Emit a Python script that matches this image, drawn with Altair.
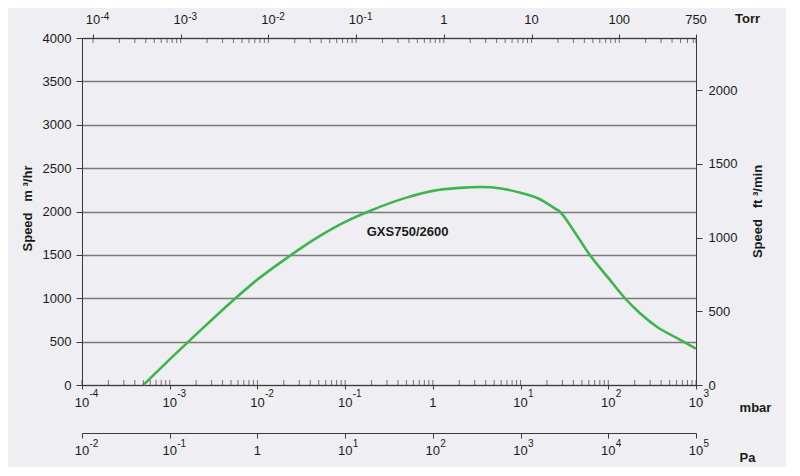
import altair as alt
import pandas as pd

# ---------------- data ----------------
pressure_mbar = [5e-4, 1e-3, 2e-3, 5e-3, 1e-2, 2e-2, 5e-2, 0.1, 0.2, 0.5, 1, 2, 3.5, 6,
                 10, 16, 25, 28, 40, 62, 100, 155, 230, 357, 600, 1000]
speed_m3h = [0, 295, 583, 955, 1215, 1440, 1710, 1880, 2015, 2160, 2238, 2272, 2282, 2265,
             2215, 2150, 2030, 1998, 1785, 1495, 1235, 1000, 827, 672, 543, 420]

curve_name = ["GXS750/2600"]
curve_name_mbar = [0.515]
curve_name_speed = [1760]

mbar_ticks = [1e-4, 1e-3, 1e-2, 1e-1, 1, 10, 100, 1000]
mbar_base = ["10", "10", "10", "10", "1", "10", "10", "10"]
mbar_exp = ["-4", "-3", "-2", "-1", "", "1", "2", "3"]
torr_ticks = [1e-4, 1e-3, 1e-2, 1e-1, 1, 10, 100, 750]
torr_base = ["10", "10", "10", "10", "1", "10", "100", "750"]
torr_exp = ["-4", "-3", "-2", "-1", "", "", "", ""]
pa_ticks = [1e-2, 1e-1, 1, 10, 100, 1e3, 1e4, 1e5]
pa_base = ["10", "10", "1", "10", "10", "10", "10", "10"]
pa_exp = ["-2", "-1", "", "1", "2", "3", "4", "5"]
speed_ticks = [0, 500, 1000, 1500, 2000, 2500, 3000, 3500, 4000]
cfm_ticks = [0, 500, 1000, 1500, 2000]

MBAR_TO_TORR = 0.750062
MBAR_TO_PA = 100.0
M3H_TO_CFM = 0.588578

# minor tick positions (log decades)
mbar_minor = [k * 10.0 ** d for d in range(-4, 3) for k in range(1, 10)] + [1000]
torr_minor = [k * 10.0 ** d for d in range(-4, 2) for k in range(1, 10)] + [100, 200, 300, 400, 500, 600, 700, 750]

# ---------------- style ----------------
FONT = "Liberation Sans"
BG = "#efeff3"
AX = "#3a3a3a"
TXT = "#1a1a1a"
GREEN = "#3db54a"
GRID = "#7a7a7a"


def xs():
    return alt.Scale(type="log", domain=[1e-4, 1e3], nice=False)


def torr_s():
    return alt.Scale(type="log", domain=[1e-4 * MBAR_TO_TORR, 1e3 * MBAR_TO_TORR], nice=False)


def pa_s():
    return alt.Scale(type="log", domain=[1e-4 * MBAR_TO_PA, 1e3 * MBAR_TO_PA], nice=False)


def ys():
    return alt.Scale(domain=[0, 4000], nice=False, zero=False)


common_axis = dict(labelFont=FONT, labelFontSize=13, labelColor=TXT, domainColor=AX,
                   tickColor=AX, titleFont=FONT, titleFontSize=13, titleFontWeight="bold",
                   titleColor=TXT, labelFlush=False, labelOverlap=False)


def tick_labels(field, ticks, base, exp, scale, yval, dy_base, dy_exp):
    d = pd.DataFrame({field: ticks, "base": base, "exp": exp})
    enc = dict(
        x=alt.X(f"{field}:Q", scale=scale, axis=None),
        y=alt.YDatum(yval, type="quantitative", scale=ys(), axis=None),
    )
    b = alt.Chart(d).mark_text(font=FONT, fontSize=13, color=TXT, align="center",
                               baseline="alphabetic", dy=dy_base).encode(text="base:N", **enc)
    e = alt.Chart(d).mark_text(font=FONT, fontSize=10, color=TXT, align="left",
                               baseline="alphabetic", dx=7.5, dy=dy_exp).encode(text="exp:N", **enc)
    return [b, e]


df = pd.DataFrame({"mbar": pressure_mbar, "speed": speed_m3h})

curve = alt.Chart(df).mark_line(color=GREEN, strokeWidth=2.6, interpolate="monotone").encode(
    x=alt.X("mbar:Q", scale=xs(), axis=alt.Axis(
        orient="bottom", values=mbar_ticks, labels=False,
        tickSize=4, grid=False,
        title="mbar", titleAngle=0, titleX=673, titleY=22, titleAlign="center",
        titleBaseline="middle", **common_axis)),
    y=alt.Y("speed:Q", scale=ys(), axis=alt.Axis(
        orient="left", values=speed_ticks, format="d", grid=True, gridColor=GRID, gridWidth=1.6,
        tickSize=6, labelPadding=5,
        title="Speed\u00a0\u00a0\u00a0m\u00a0³/hr", titleAngle=270, titleX=-55, titleY=170,
        titleAlign="center", titleBaseline="middle", **common_axis)),
)

label = alt.Chart(pd.DataFrame({"mbar": curve_name_mbar, "speed": curve_name_speed,
                                "text": curve_name})).mark_text(
    font=FONT, fontSize=13, fontWeight="bold", color=TXT, align="center", baseline="middle"
).encode(
    x=alt.X("mbar:Q", scale=xs(), axis=None),
    y=alt.Y("speed:Q", scale=ys(), axis=None),
    text="text:N",
)

mbar_minor_layer = alt.Chart(pd.DataFrame({"mbar": mbar_minor})).mark_tick(
    color=AX, thickness=1, size=5, yOffset=-2.5, orient="vertical"
).encode(
    x=alt.X("mbar:Q", scale=xs(), axis=None),
    y=alt.YDatum(0, type="quantitative", scale=ys(), axis=None),
)

torr_layer = alt.Chart(pd.DataFrame({"torr": torr_minor})).mark_tick(
    color=AX, thickness=1, size=5, yOffset=2.5, orient="vertical"
).encode(
    x=alt.X("torr:Q", scale=torr_s(),
            axis=alt.Axis(orient="top", values=torr_ticks, labels=False,
                          tickSize=4, grid=False,
                          title="Torr", titleAngle=0, titleX=665, titleY=-20, titleAlign="center",
                          titleBaseline="middle", **common_axis)),
    y=alt.YDatum(4000, type="quantitative", scale=ys(), axis=None),
)

pa_layer = alt.Chart(pd.DataFrame({"pa": pa_ticks})).mark_tick(opacity=0, orient="vertical").encode(
    x=alt.X("pa:Q", scale=pa_s(),
            axis=alt.Axis(orient="bottom", offset=48, values=pa_ticks, labels=False,
                          tickSize=5, grid=False,
                          title="Pa", titleAngle=0, titleX=665, titleY=24, titleAlign="center",
                          titleBaseline="middle", **common_axis)),
    y=alt.YDatum(0, type="quantitative", scale=ys(), axis=None),
)

cfm_layer = alt.Chart(pd.DataFrame({"cfm": cfm_ticks})).mark_rule(opacity=0).encode(
    y=alt.Y("cfm:Q", scale=alt.Scale(domain=[0, 4000 * M3H_TO_CFM], nice=False, zero=False),
            axis=alt.Axis(orient="right", values=cfm_ticks, format="d", grid=False, tickSize=6,
                          labelPadding=6,
                          title="Speed\u00a0\u00a0\u00a0ft\u00a0³/min", titleAngle=270, titleX=61, titleY=173,
                          titleAlign="center", titleBaseline="middle", **common_axis)),
)

label_layers = (
    tick_labels("mbar", mbar_ticks, mbar_base, mbar_exp, xs(), 0, 22, 12)
    + tick_labels("torr", torr_ticks, torr_base, torr_exp, torr_s(), 4000, -14, -18)
    + tick_labels("pa", pa_ticks, pa_base, pa_exp, pa_s(), 0, 70, 62)
)

chart = alt.layer(
    curve, label, mbar_minor_layer, torr_layer, pa_layer, cfm_layer, *label_layers
).resolve_scale(x="independent", y="independent").properties(
    width=614, height=347, background=BG,
    padding={"left": 74, "top": 30, "right": 90, "bottom": 82},
    autosize=alt.AutoSizeParams(type="none"),
).configure_view(strokeWidth=0)

chart.save("out.html", embed_options={"renderer": "svg", "actions": False})
